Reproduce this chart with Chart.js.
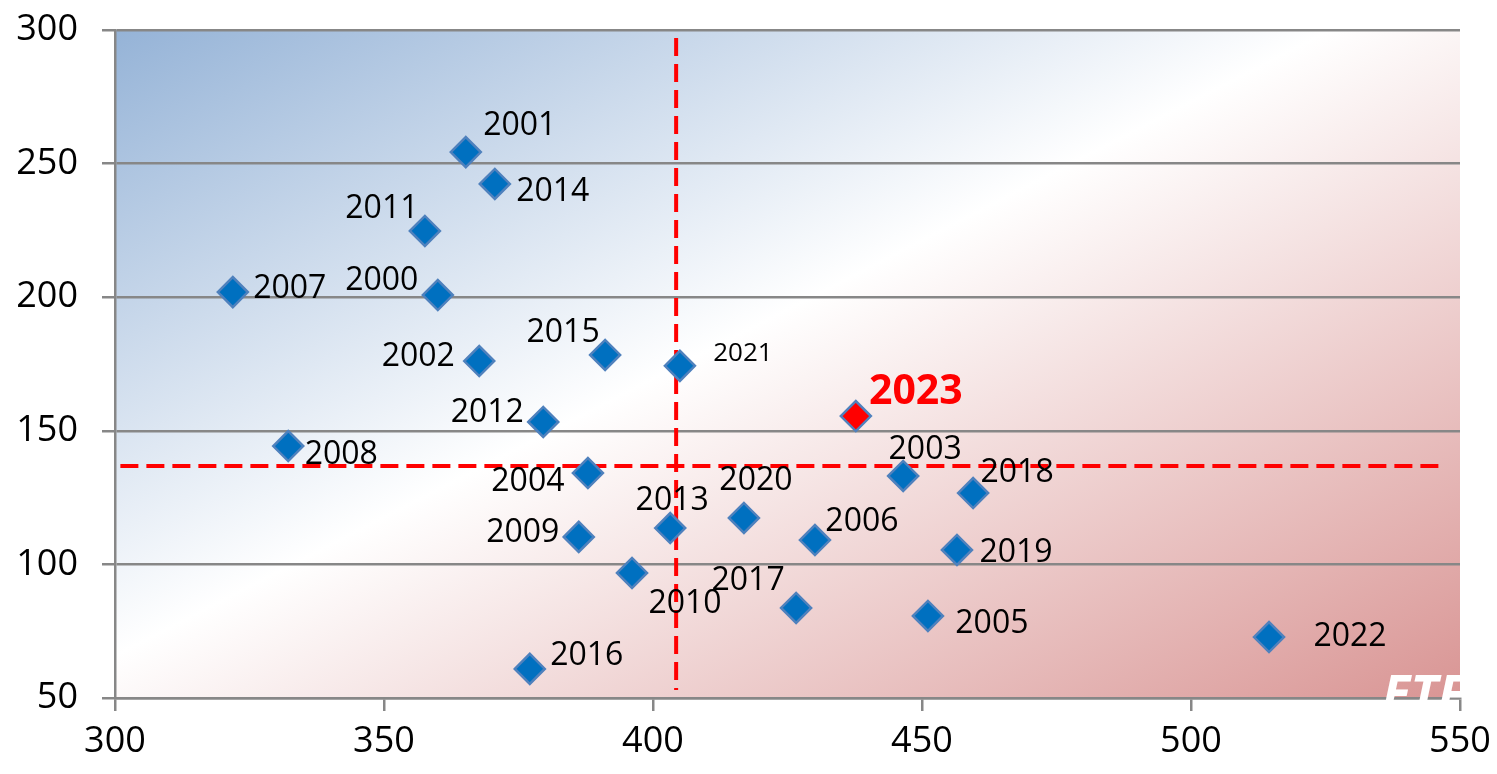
<!DOCTYPE html>
<html>
<head>
<meta charset="utf-8">
<script src="https://cdn.jsdelivr.net/npm/chart.js@4.4.1/dist/chart.umd.min.js"></script>
<style>
html,body{margin:0;padding:0;background:#fff;}
#wrap{width:1497px;height:774px;}
</style>
</head>
<body>
<div id="wrap"><canvas id="c" width="1497" height="774"></canvas></div>
<script>
// ---- data ----
const years   = ['2001','2014','2011','2007','2000','2002','2015','2021','2012','2023','2008','2004','2003','2018','2013','2020','2009','2006','2019','2010','2017','2005','2022','2016'];
const xValues = [365.2,370.6,357.6,321.9,360.0,367.7,391.1,405.0,379.6,437.7,332.2,387.9,446.5,459.5,403.2,416.9,386.2,430.1,456.5,396.1,426.6,451.1,514.5,377.1];
const yValues = [254.3,242.4,224.8,201.9,200.8,176.1,178.4,174.3,153.3,155.5,144.3,134.2,133.1,126.7,113.6,117.4,110.3,109.1,105.4,96.8,83.7,80.7,72.8,60.9];
const highlightYear = '2023';
const avgX = 404.3;
const avgY = 136.8;
const vLineY = [297, 53];
const hLineX = [301, 547.2];
const xTicks = [300,350,400,450,500,550];
const yTicks = [50,100,150,200,250,300];

// label placement (pixel offsets, style only)
const labelOffsets = {
  '2001':[54,-26],'2014':[58,8],'2011':[-43,-22],'2007':[57,-3],'2000':[-56,-14],
  '2002':[-61,-4],'2015':[-42,-22],'2021':[63,-12],'2012':[-56,-9],'2023':[60,-24],
  '2008':[53,9],'2004':[-60,9],'2003':[22,-26],'2018':[44,-20],'2013':[2,-27],
  '2020':[12,-37],'2009':[-56,-4],'2006':[47,-18],'2019':[59,3],'2010':[53,31],
  '2017':[-48,-27],'2005':[64,8],'2022':[81,0],'2016':[57,-13]
};

const FONT = "'Open Sans', 'Noto Sans', sans-serif";

const points = years.map((y,i)=>({x:xValues[i], y:yValues[i], label:y}));

const bgPlugin = {
  id:'bg',
  beforeDraw(chart){
    const {ctx, chartArea:a} = chart;
    const w = a.right - a.left, h = a.bottom - a.top;
    const ux = 0.4577, uy = 0.8891;
    const len = w*ux + h*uy;
    const g = ctx.createLinearGradient(a.left, a.top, a.left + ux*len, a.top + uy*len);
    g.addColorStop(0, '#95B3D7');
    g.addColorStop(0.46, '#FFFFFF');
    g.addColorStop(1, '#D99594');
    ctx.save();
    ctx.fillStyle = g;
    ctx.fillRect(a.left, a.top, w, h);
    ctx.restore();
  }
};

const labelPlugin = {
  id:'labels',
  afterDatasetsDraw(chart){
    const {ctx, chartArea:a} = chart;
    const meta = chart.getDatasetMeta(0);
    ctx.save();
    ctx.textAlign='center';
    ctx.textBaseline='middle';
    meta.data.forEach((el,i)=>{
      const yr = years[i];
      const off = labelOffsets[yr] || [40,0];
      if (yr === highlightYear) {
        ctx.font = "bold 41px " + FONT;
        ctx.fillStyle = '#FF0000';
      } else if (yr === '2021') {
        ctx.font = "26px " + FONT;
        ctx.fillStyle = '#000';
      } else {
        ctx.font = "32px " + FONT;
        ctx.fillStyle = '#000';
      }
      ctx.fillText(yr, el.x + off[0], el.y + off[1]);
    });
    ctx.beginPath();
    ctx.rect(a.left, a.top, a.right - a.left + 2, a.bottom - a.top + 20);
    ctx.clip();
    ctx.font = "italic bold 52px " + FONT;
    ctx.fillStyle = '#FFFFFF';
    ctx.textAlign='left';
    ctx.textBaseline='alphabetic';
    ctx.fillText('ETF', a.right - 78, a.bottom + 14);
    ctx.restore();
  }
};

new Chart(document.getElementById('c'), {
  type:'scatter',
  data:{
    datasets:[
      {
        data: points,
        pointStyle:'rectRot',
        pointRadius:15,
        pointHoverRadius:15,
        pointBackgroundColor: years.map(y=> y===highlightYear ? '#FF0000' : '#0070C0'),
        pointBorderColor: '#4F81BD',
        pointBorderWidth: 2.5,
        order: 0
      },
      {
        type:'line',
        data:[{x:avgX,y:vLineY[0]},{x:avgX,y:vLineY[1]}],
        borderColor:'#FF0000',
        borderWidth:4,
        borderDash:[18,8],
        pointRadius:0,
        order: 1
      },
      {
        type:'line',
        data:[{x:hLineX[0],y:avgY},{x:hLineX[1],y:avgY}],
        borderColor:'#FF0000',
        borderWidth:4,
        borderDash:[18,8],
        pointRadius:0,
        order: 1
      }
    ]
  },
  options:{
    responsive:false,
    animation:false,
    events:[],
    layout:{padding:{top:30,right:37,left:0,bottom:0}},
    plugins:{legend:{display:false},tooltip:{enabled:false}},
    scales:{
      x:{
        type:'linear', min:300, max:550,
        afterBuildTicks(s){ s.ticks = xTicks.map(v=>({value:v})); },
        afterFit(s){ s.height = 76; s.paddingLeft = 0; s.paddingRight = 0; },
        grid:{drawOnChartArea:false, drawTicks:true, tickLength:13, color:'#878787', lineWidth:2.5},
        border:{display:true, color:'#878787', width:2.5},
        ticks:{font:{size:36, family:FONT}, color:'#000', padding:9, maxRotation:0}
      },
      y:{
        type:'linear', min:50, max:300,
        afterBuildTicks(s){ s.ticks = yTicks.map(v=>({value:v})); },
        afterFit(s){ s.width = 115; s.paddingTop = 0; s.paddingBottom = 0; },
        grid:{drawOnChartArea:true, drawTicks:true, tickLength:13, color:'#878787', lineWidth:2.5},
        border:{display:true, color:'#878787', width:2.5},
        ticks:{font:{size:36, family:FONT}, color:'#000', padding:24}
      }
    }
  },
  plugins:[bgPlugin, labelPlugin]
});
</script>
</body>
</html>
